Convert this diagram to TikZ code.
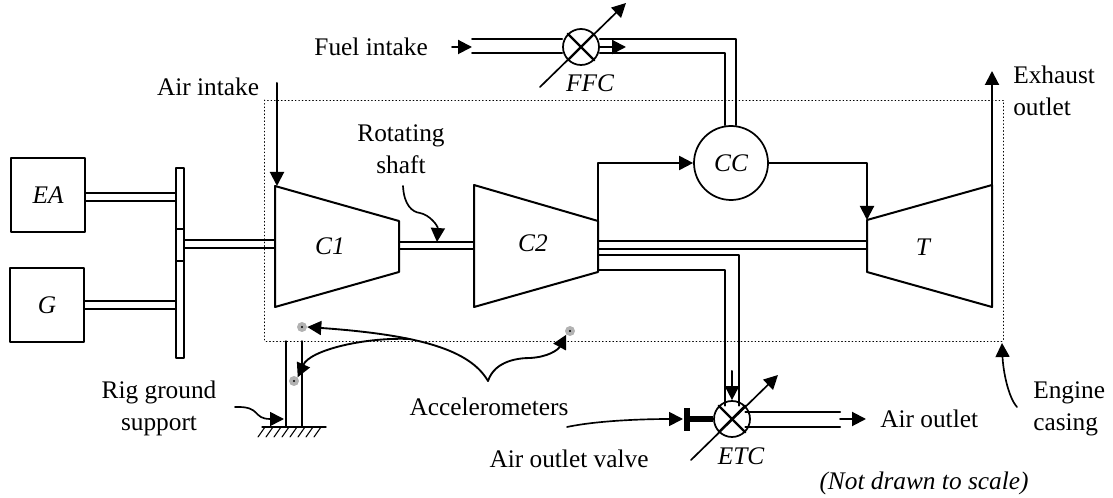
\documentclass[tikz,border=0pt]{standalone}
\usepackage{fontspec}
\setmainfont{Liberation Serif}
\usetikzlibrary{arrows.meta}
\tikzset{
  txt/.style={font=\fontsize{19}{24}\selectfont, inner sep=0pt, align=center},
  itxt/.style={txt, font=\fontsize{19}{24}\selectfont\itshape},
  boxnode/.style={itxt, draw, line width=.9pt, minimum width=55.5pt, minimum height=55.5pt},
  pipe/.style={line width=1.5pt},
  flow/.style={line width=1.5pt, ->},
  slim/.style={line width=1.25pt, ->},
  valve/.style={draw, circle, line width=1.3pt, minimum size=27pt, inner sep=0pt},
  accel/.style={circle, fill=gray!60, minimum size=7.5pt, inner sep=0pt},
}
\begin{document}
\begin{tikzpicture}[x=.75pt, y=-.75pt, line cap=round, line join=round, >={Stealth[length=10.5pt, width=10.5pt, inset=0pt]}]
  \useasboundingbox (0,0) rectangle (1113,498);
  %--- Engine casing
    \coordinate (casingTL) at (264.5,100);
    \coordinate (casingBR) at (1003,341);
    \draw[dotted, line width=.6pt] (casingTL) rectangle (casingBR);
  %--- EA
    \node[boxnode] (EA) at (48,195) {EA};
    \coordinate (EAa) at (85,193);
    \coordinate (EAb) at (85,201);
    \coordinate (EAc) at (176,193);
    \coordinate (EAd) at (176,201);
    \draw[pipe] (EAa) -- (EAc) -- (EAd) -- (EAb) -- cycle;
  %--- G
    \node[boxnode] (G) at (47,305) {\raisebox{-1pt}{G}};
    \coordinate (Ga) at (84,301);
    \coordinate (Gb) at (84,309);
    \coordinate (Gc) at (176,301);
    \coordinate (Gd) at (176,309);
    \draw[pipe] (Ga) -- (Gc) -- (Gd) -- (Gb) -- cycle;
  %--- Gearbox disk
    \draw[pipe] (176,168) rectangle (184,358);
    \draw[pipe] (176,229) -- ++(8,0);
    \draw[pipe] (176,261) -- ++(8,0);
  %--- C1
    \coordinate (C1a) at (275,186);
    \coordinate (C1b) at (399,221);
    \coordinate (C1c) at (399,272);
    \coordinate (C1d) at (275,307);
    \draw[pipe] (C1a) -- (C1b) -- (C1c) -- (C1d) -- cycle;
    \node[itxt] (C1) at (330,246) {C1};
  %--- C2
    \coordinate (C2a) at (474,185);
    \coordinate (C2b) at (598,221);
    \coordinate (C2c) at (598,272);
    \coordinate (C2d) at (474,307);
    \draw[pipe] (C2a) -- (C2b) -- (C2c) -- (C2d) -- cycle;
    \node[itxt] (C2) at (533,243) {C2};
  %--- T
    \coordinate (Ta) at (867,220);
    \coordinate (Tb) at (992,185);
    \coordinate (Tc) at (992,307);
    \coordinate (Td) at (867,272);
    \draw[pipe] (Ta) -- (Tb) -- (Tc) -- (Td) -- cycle;
    \node[itxt] (T) at (923,247) {T};
  %--- Shafts
    \draw[pipe] (184,240) rectangle (275,248);
    \draw[pipe] (399,242) rectangle (474,249);
    \draw[pipe] (598,241) -- (867,241);
    \draw[pipe] (598,249) -- (867,249);
  %--- CC
    \node[valve, itxt, draw, line width=1.3pt, minimum size=55.5pt] (CC) at (731,163) {CC};
    \coordinate (CCin) at (598,163);
    \coordinate (CCout) at (867,163);
    \draw[flow] (C2b) -- (CCin) -- (CC.west);
    \draw[flow] (CC.east) -- (CCout) -- (Ta);
  %--- FFC
    \node[valve] (FFC) at (581,47) {};
    \draw[line width=1.8pt] (FFC.45) -- (FFC.225);
    \draw[line width=1.8pt] (FFC.135) -- (FFC.315);
    \coordinate (FFCa) at (540,87);
    \coordinate (FFCb) at (626,3);
    \draw[slim] (FFCa) -- (FFCb);
    \node[itxt] (FFClab) at (590,83) {FFC};
    \coordinate (fuelA) at (472,39);
    \coordinate (fuelB) at (472,53);
    \coordinate (fuelC) at (736,39);
    \coordinate (fuelD) at (725,53);
    \draw[pipe] (fuelA) -- (FFC.west |- fuelA);
    \draw[pipe] (fuelB) -- (FFC.west |- fuelB);
    \draw[pipe] (FFC.east |- fuelA) -- (fuelC) -- (fuelC |- CC.north);
    \draw[pipe] (FFC.east |- fuelB) -- (fuelD) -- (fuelD |- CC.north);
    \coordinate (fuelE) at (452,47);
    \draw[flow] (fuelE) -- (fuelE -| fuelA);
    \coordinate (fuelF) at (626,47);
    \draw[flow] (FFC.east) -- (fuelF);
    \node[txt, anchor=east] (fuel) at (428,47) {Fuel intake};
  %--- ETC
    \node[valve] (ETC) at (732,419) {};
    \draw[line width=1.8pt] (ETC.45) -- (ETC.225);
    \draw[line width=1.8pt] (ETC.135) -- (ETC.315);
    \coordinate (ETCa) at (691,460);
    \coordinate (ETCb) at (778,375);
    \draw[slim] (ETCa) -- (ETCb);
    \node[itxt] (ETClab) at (741,456) {ETC};
    \coordinate (bleedA) at (598,255);
    \coordinate (bleedB) at (598,270);
    \coordinate (bleedC) at (739,255);
    \coordinate (bleedD) at (725,270);
    \draw[pipe] (bleedA) -- (bleedC) -- (bleedC |- ETC.45);
    \draw[pipe] (bleedB) -- (bleedD) -- (bleedD |- ETC.135);
    \coordinate (bleedE) at (732,371);
    \draw[flow] (bleedE) -- (ETC.north);
    \coordinate (outA) at (840,412);
    \coordinate (outB) at (840,427);
    \draw[pipe] (ETC.45 |- outA) -- (outA);
    \draw[pipe] (ETC.315 |- outB) -- (outB);
    \coordinate (outC) at (840,419);
    \coordinate (outD) at (866,419);
    \draw[flow] (outC) -- (outD);
    \node[txt, anchor=west] (outlet) at (880,419) {Air outlet};
  %--- Air outlet valve
    \coordinate (stem) at (688,419);
    \draw[line width=4pt, line cap=butt] (ETC.west) -- (stem);
    \draw[line width=4pt, line cap=butt] (687,408) -- (687,431);
    \node[txt] (valvelab) at (569,459) {Air outlet valve};
    \coordinate (valveA) at (567,427);
    \draw[slim] (valveA) .. controls (600,420) and (650,419) .. (683,419);
  %--- Air intake
    \node[txt] (air) at (208,87) {Air intake};
    \coordinate (airA) at (277,83);
    \draw[flow] (airA) -- (277,186);
  %--- Exhaust
    \node[txt, anchor=west, align=left] (exhaust) at (1013,91) {Exhaust\\outlet};
    \coordinate (exhaustA) at (992,71);
    \draw[flow] (Tb) -- (exhaustA);
  %--- Rotating shaft
    \node[txt] (rotating) at (401,149) {Rotating\\shaft};
    \coordinate (rotA) at (403,186);
    \coordinate (rotB) at (437,242);
    \draw[slim] (rotA) .. controls (404,205) and (412,212) .. (420,213)
      .. controls (430,215) and (438,226) .. (rotB);
  %--- Rig ground support
    \node[txt] (rig) at (159,408) {Rig ground\\support};
    \coordinate (rigA) at (286,341);
    \coordinate (rigB) at (302,341);
    \coordinate (rigC) at (286,427);
    \coordinate (rigD) at (302,427);
    \draw[line width=1pt] (rigA) -- (rigC);
    \draw[line width=1pt] (rigB) -- (rigD);
    \draw[line width=1pt] (262,427) -- (326,427);
    \foreach \x in {265,273,...,326}
      \draw[line width=.8pt] (\x,427) -- ++(-7,10);
    \coordinate (supA) at (235,407);
    \coordinate (supB) at (284,419);
    \draw[slim] (supA) .. controls (262,406) and (252,419) .. (supB);
  %--- Accelerometers
    \node[accel] (acca) at (302,327) {};
    \node[accel] (accb) at (294,381) {};
    \node[accel] (accc) at (570,331) {};
    \foreach \n in {acca,accb,accc}
      \fill (\n) circle (.9pt);
    \node[txt] (accel) at (489,407) {Accelerometers};
    \coordinate (acctip) at (488,381);
    \coordinate (accmid) at (410,339);
    \draw[slim, line width=1.4pt] (acctip) .. controls (470,350) and (420,335) .. (acca.east);
    \draw[slim, line width=1.4pt] (accmid) .. controls (365,337) and (310,350) .. (accb.north east);
    \draw[slim, line width=1.4pt] (acctip) .. controls (495,360) and (520,358) .. (530,358)
      .. controls (548,357) and (558,350) .. (accc.south west);
  %--- Engine casing label
    \node[txt, anchor=west, align=left] (casing) at (1033,409) {Engine\\casing};
    \coordinate (casA) at (1017,407);
    \coordinate (casB) at (1002,343);
    \draw[slim] (casA) .. controls (1008,397) and (1003,370) .. (casB);
  %--- Scale note
    \node[itxt] (scale) at (924,483) {(Not drawn to scale)};
  \end{tikzpicture}
\end{document}
